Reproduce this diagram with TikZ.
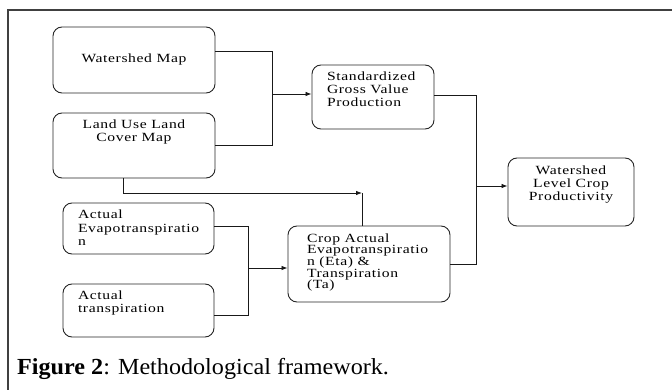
\documentclass[tikz,border=0pt]{standalone}
\usepackage{fontspec}
\setmainfont{Liberation Serif}
\newfontfamily\boxfont[LetterSpace=5,FakeStretch=1.25]{Liberation Serif}
\newfontfamily\capfont[FakeStretch=1.05]{Liberation Serif}
\usetikzlibrary{arrows.meta}
\newcommand{\bxt}[6]{\parbox[c][#2][t]{#1}{\boxfont\fontsize{12.5}{#6}\selectfont#3\rule{0pt}{#4}#5}}
\tikzset{
  box/.style={draw=black!85, line width=0.9pt, rounded corners=9pt, inner sep=0pt},
  conn/.style={draw=black!90, line width=0.8pt},
  arr/.style={conn, -{Latex[length=6pt,width=4.5pt]}},
  frame/.style={draw=black!75, line width=1.4pt}
}
\begin{document}
\begin{tikzpicture}[x=1pt,y=-1pt]
\useasboundingbox (0,0) rectangle (672,390);
\draw[frame] (680,10) -- (8,10) -- (8,400);
% boxes
\node[box] (ws) at (134,60) {\bxt{162pt}{66pt}{\centering}{36pt}{Watershed Map}{13pt}};
\node[box] (lu) at (134,145.5) {\bxt{162pt}{65pt}{\centering}{16pt}{Land Use Land\\Cover Map}{13pt}};
\node[box] (sg) at (373,97) {\bxt{122pt}{64pt}{\raggedright\leftskip=15pt\relax}{16pt}{Standardized\\Gross Value\\Production}{13pt}};
\node[box] (wl) at (571,192) {\bxt{126pt}{68pt}{\centering}{17pt}{Watershed\\Level Crop\\Productivity}{13pt}};
\node[box] (ae) at (138.5,228.5) {\bxt{151pt}{51pt}{\raggedright\leftskip=15pt\relax}{16pt}{Actual\\Evapotranspiratio\\n}{13.5pt}};
\node[box] (at) at (138.5,310.5) {\bxt{151pt}{53pt}{\raggedright\leftskip=15pt\relax}{15pt}{Actual\\transpiration}{13pt}};
\node[box] (ca) at (369,264) {\bxt{162pt}{76pt}{\raggedright\leftskip=19pt\relax}{16pt}{Crop Actual\\Evapotranspiratio\\n (Eta) \&\\Transpiration\\(Ta)}{11.7pt}};
% caption
\node[anchor=base west, inner sep=0pt, font=\capfont\fontsize{23}{26}\selectfont] (cap) at (17,374) {\textbf{Figure 2}: Methodological framework.};
% junctions
\coordinate (jA) at (272,94);
\coordinate (jB) at (476,186);
\coordinate (jC) at (362,193);
\coordinate (jD) at (248,268);
\coordinate (aeE) at ([yshift=2pt]ae.east);
\coordinate (atE) at ([yshift=-4.5pt]at.east);
% connectors
\draw[conn] ([yshift=9pt]ws.east) -| (jA |- lu.east) -- (lu.east);
\draw[arr] (jA) -- (jA -| sg.west);
\draw[conn] ([yshift=2pt]sg.east) -| (jB |- ca.east) -- (ca.east);
\draw[arr] (jB) -- (jB -| wl.west);
\draw[arr] ([xshift=-11pt]lu.south) |- (jC);
\draw[conn] (jC) -- (jC |- ca.north);
\draw[conn] (aeE) -| (jD |- atE) -- (atE);
\draw[arr] (jD) -- (jD -| ca.west);
\end{tikzpicture}
\end{document}
